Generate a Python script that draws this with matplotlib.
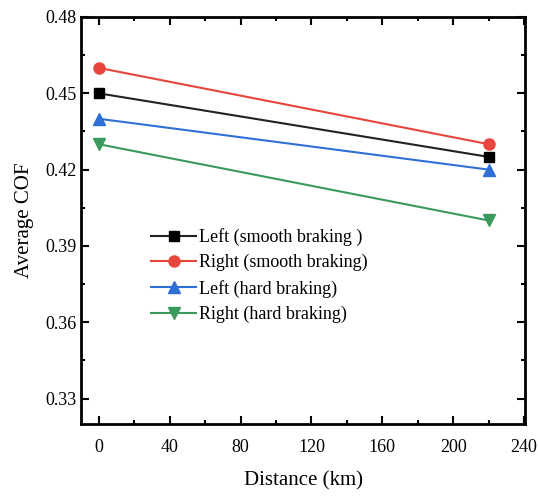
import numpy as np
from matplotlib import pyplot as plt
from matplotlib.ticker import MultipleLocator

plt.rcParams['font.family'] = ['Liberation Serif', 'DejaVu Serif']

distance = [0, 220]
left_smooth = [0.450, 0.425]
right_smooth = [0.460, 0.430]
left_hard = [0.440, 0.420]
right_hard = [0.430, 0.400]
labels = ['Left (smooth braking )', 'Right (smooth braking)',
          'Left (hard braking)', 'Right (hard braking)']

fig = plt.figure(figsize=(5.38, 4.97), dpi=100)
ax = fig.add_axes([0.1506, 0.1469, 0.8252, 0.8189])

ax.plot(distance, left_smooth, '-s', color='#222222', mfc='black', mec='black', ms=7, lw=1.5, label=labels[0])
ax.plot(distance, right_smooth, '-o', color='#e8453c', ms=8, lw=1.5, label=labels[1])
ax.plot(distance, left_hard, '-^', color='#2f6fd6', ms=8, lw=1.5, label=labels[2])
ax.plot(distance, right_hard, '-v', color='#3a9a5c', ms=8, lw=1.5, label=labels[3])

ax.set_xlim(-10, 240.5)
ax.set_ylim(0.32, 0.48)
ax.xaxis.set_major_locator(MultipleLocator(40))
ax.xaxis.set_minor_locator(MultipleLocator(20))
ax.yaxis.set_minor_locator(MultipleLocator(0.015))
ax.set_yticks([0.33, 0.36, 0.39, 0.42, 0.45, 0.48])
ax.set_yticklabels(['0.33', '0.36', '0.39', '0.42', '0.45', '0.48'])

ax.tick_params(which='both', direction='in', top=True, right=True, width=1.5, labelsize=13)
ax.tick_params(which='major', length=6)
ax.tick_params(which='minor', length=3)
ax.tick_params(axis='x', pad=11)
for s in ax.spines.values():
    s.set_linewidth(2)

ax.set_xlabel('Distance (km)', fontsize=15, labelpad=11)
ax.set_ylabel('Average COF', fontsize=15, labelpad=8)

ax.legend(loc='upper left', bbox_to_anchor=(0.142, 0.499), frameon=False, fontsize=13,
          handlelength=2.5, handletextpad=0.15, labelspacing=0.45, borderaxespad=0)

fig.savefig('out.png', dpi=100)
